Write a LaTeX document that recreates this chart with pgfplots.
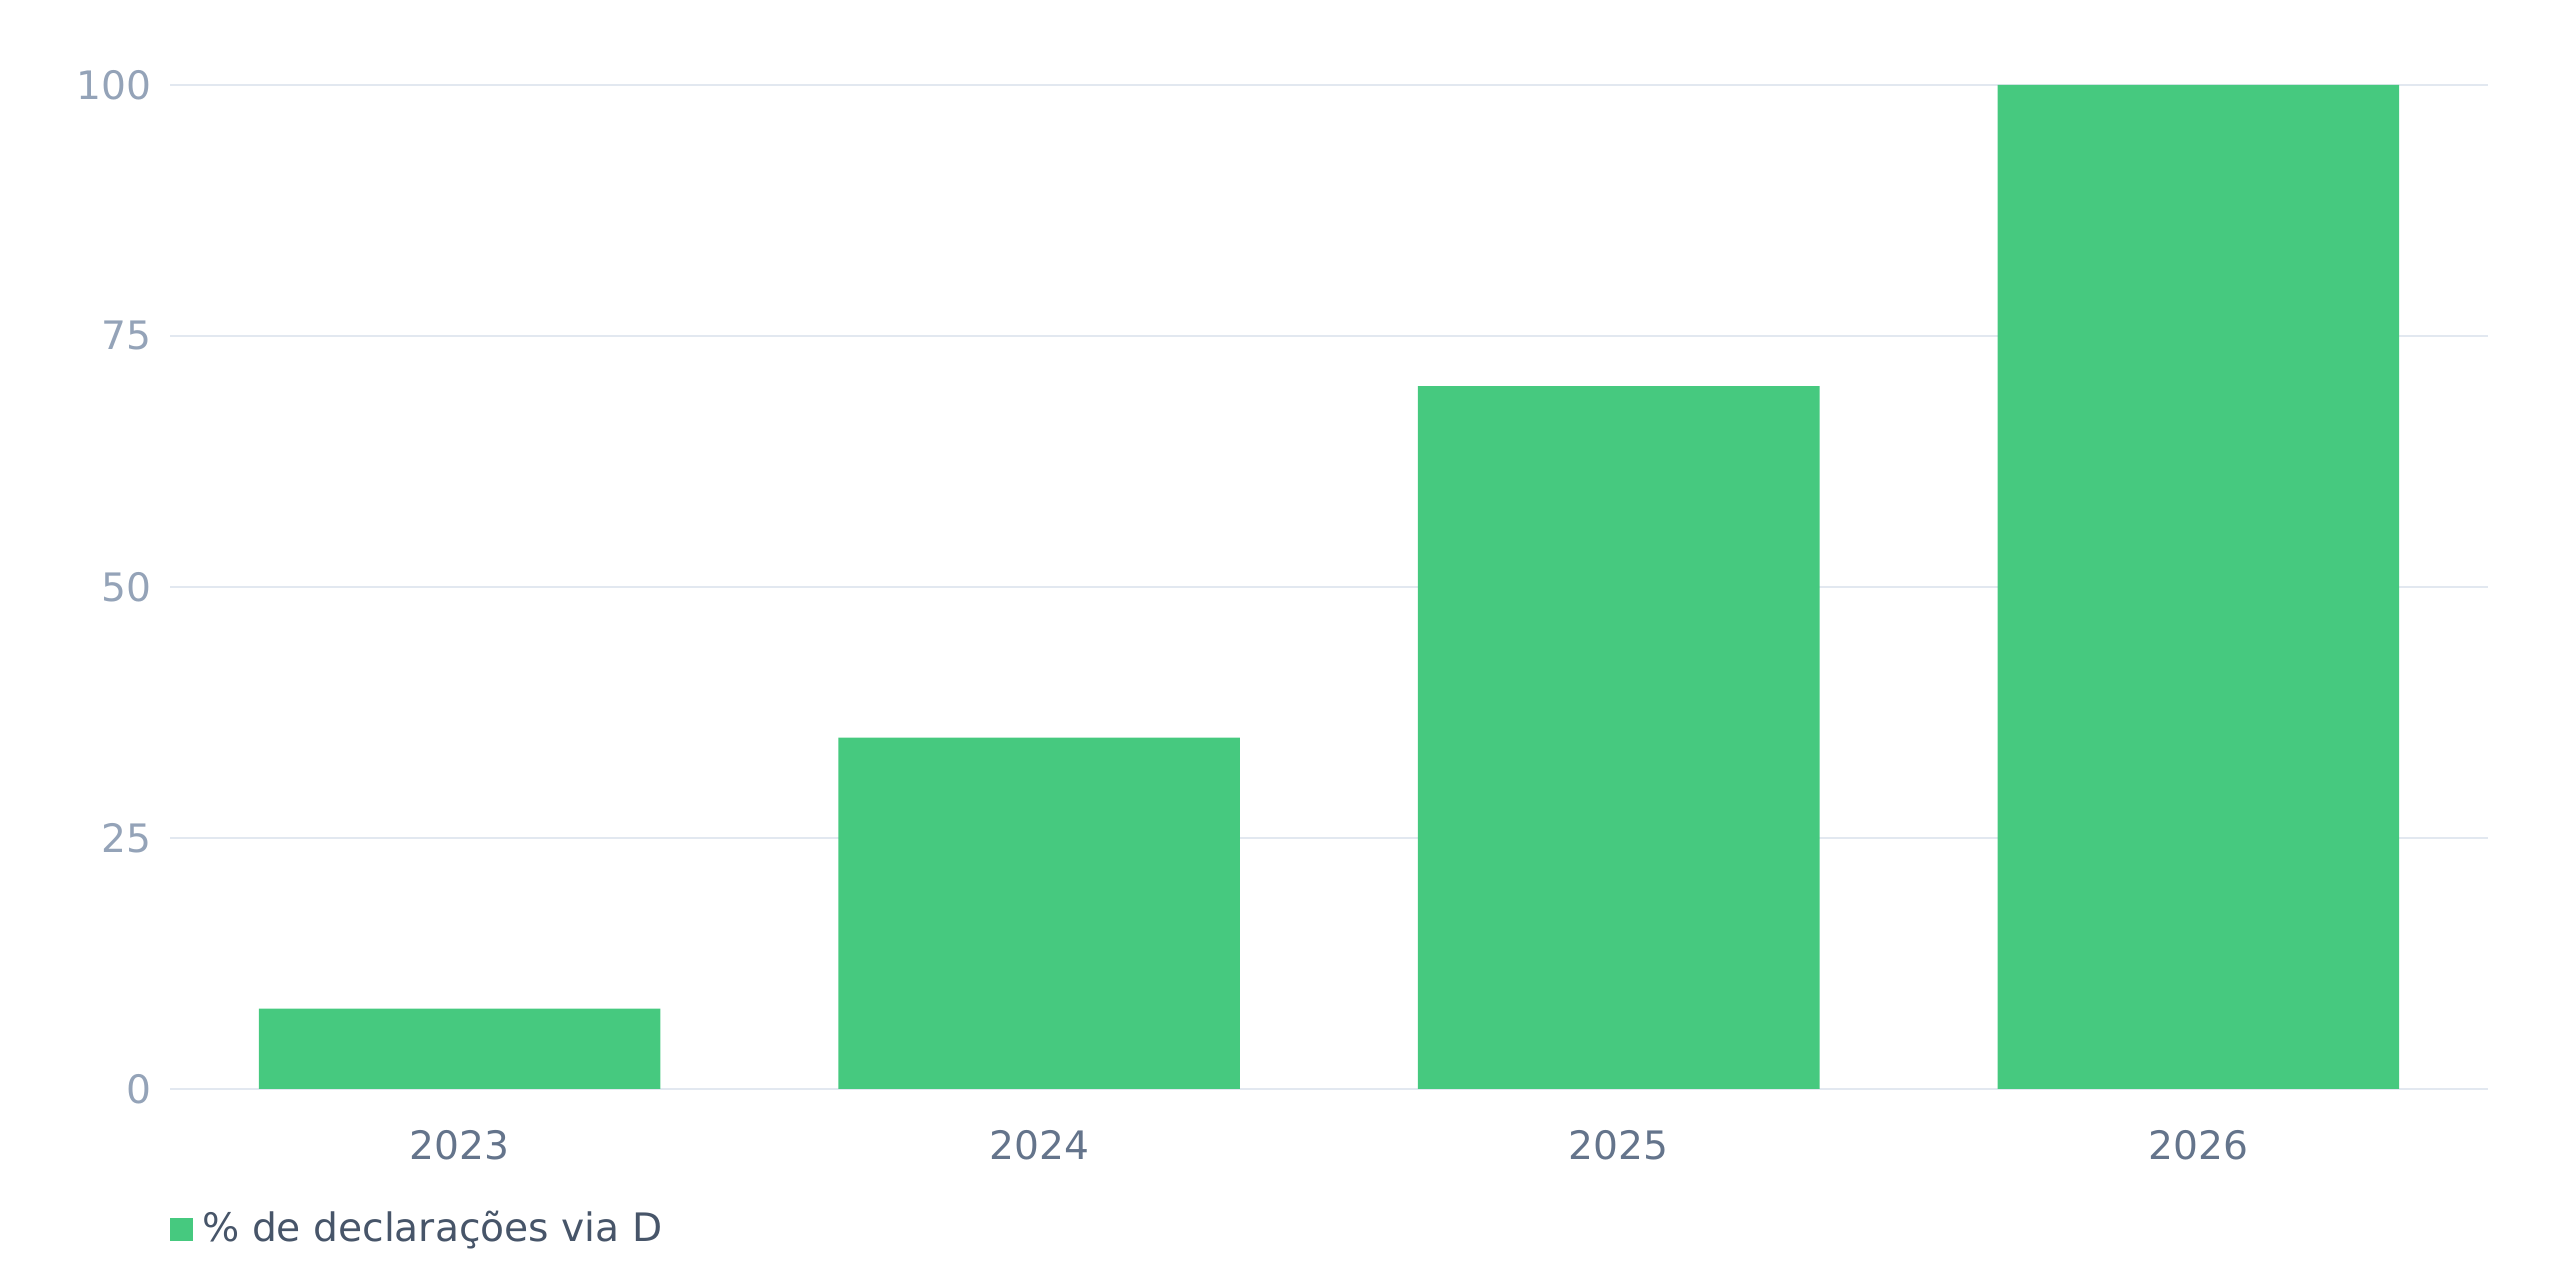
\documentclass[border=0pt]{standalone}
\usepackage{pgfplots}
\pgfplotsset{compat=1.18}
\usepackage{fontspec}
\setmainfont{DejaVu Sans}
\definecolor{barcol}{HTML}{46C97F}
\definecolor{gridcol}{HTML}{E2E8F0}
\definecolor{ytickcol}{HTML}{94A3B8}
\definecolor{xtickcol}{HTML}{64748B}
\definecolor{legendcol}{HTML}{475569}
\pgfplotstableread{
x y
0 8
1 35
2 70
3 100
}\datatable
\begin{document}
\fontsize{24bp}{28bp}\selectfont
\begin{tikzpicture}
\path[use as bounding box] (0,0) rectangle (1568bp,784bp);
\begin{axis}[
  at={(104bp,117bp)}, anchor=south west,
  scale only axis, width=1420bp, height=615bp,
  xmin=-0.5, xmax=3.5, ymin=0, ymax=100,
  ytick={0,25,50,75,100},
  xtick={0,1,2,3}, xticklabels={2023,2024,2025,2026},
  ymajorgrids, grid style={gridcol, line width=1bp},
  axis line style={draw=none},
  major tick length=0pt, tick style={draw=none},
  /pgf/number format/assume math mode=true,
  ticklabel style={font=\fontsize{24bp}{28bp}\selectfont},
  yticklabel style={text=ytickcol, inner sep=0pt, anchor=east, xshift=-11bp},
  xticklabel style={text=xtickcol, inner sep=0pt, anchor=north, yshift=-25bp},
  ybar, bar width=246bp, bar shift=0pt,
  legend style={draw=none, fill=none, inner sep=0pt, outer sep=0pt,
    at={(0,-0.1398)}, anchor=west,
    nodes={inner sep=0pt, text=legendcol, font=\fontsize{24bp}{28bp}\selectfont},
    /tikz/every odd column/.style={column sep=6bp}},
  legend image code/.code={\fill[barcol] (0bp,-7bp) rectangle (14bp,7bp);},
]
\addplot[fill=barcol, draw=none] table[x=x, y=y] {\datatable};
\addlegendentry{\% de declarações via D}
\end{axis}
\end{tikzpicture}
\end{document}
